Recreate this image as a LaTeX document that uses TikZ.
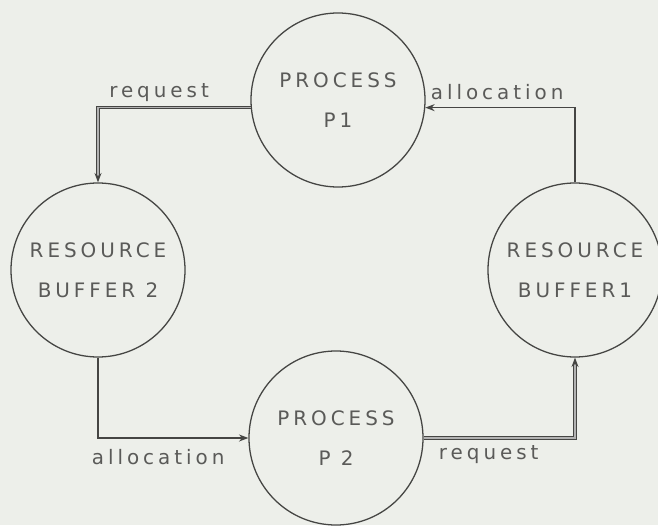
\documentclass[tikz,border=0pt]{standalone}
\usepackage{fontspec}
\setsansfont{DejaVu Sans}[LetterSpace=20]
\usetikzlibrary{arrows.meta}
\definecolor{paper}{HTML}{EDEFEA}
\definecolor{ink}{HTML}{454543}
\definecolor{pencil}{HTML}{5A5A58}
\tikzset{
  unit/.style={circle,draw=ink,line width=1.1pt,minimum size=5.22cm,inner sep=0pt,
    align=center,text=pencil,font=\sffamily\fontsize{17}{34}\selectfont},
  alloc/.style={draw=ink,line width=1pt,-{Stealth[length=8pt,width=6pt]}},
  req/.style={alloc,double=gray!60,double distance=1pt},
  lbl/.style={text=pencil,font=\sffamily\fontsize{17}{20}\selectfont},
}
\begin{document}
\begin{tikzpicture}
  \fill[paper] (0,0) rectangle (19.74,15.75);
  \useasboundingbox (0,0) rectangle (19.74,15.75);
  \node[unit] (p1) at (10.14,12.75) {PROCESS\\P1};
  \node[unit] (p2) at (10.08,2.61) {PROCESS\\P 2};
  \node[unit] (b1) at (17.25,7.65) {RESOURCE\\BUFFER1};
  \node[unit] (b2) at (2.94,7.65) {RESOURCE\\BUFFER 2};
  \draw[req] (p1.185) -| node[lbl,above=1pt,pos=0.3] (reqa) {request} (b2.north);
  \draw[alloc] (b1.north) |- node[lbl,above=3pt,pos=0.76] (alla) {allocation} (p1.355);
  \draw[alloc] (b2.south) |- node[lbl,below=6pt,pos=0.7] (allb) {allocation} (p2.west);
  \draw[req] (p2.east) -| node[lbl,below=3pt,pos=0.215] (reqb) {request} (b1.south);
\end{tikzpicture}
\end{document}
